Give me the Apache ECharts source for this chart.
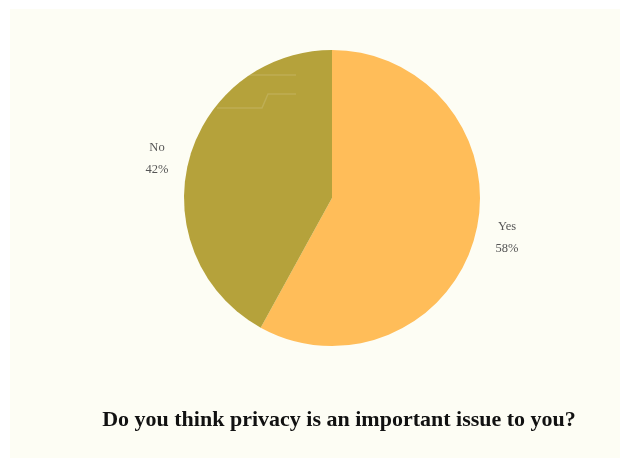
<!DOCTYPE html>
<html>
<head>
<meta charset="utf-8">
<script src="https://cdn.jsdelivr.net/npm/echarts@6/dist/echarts.min.js"></script>
<style>
  html, body { margin: 0; padding: 0; background: #ffffff; }
  #chart { width: 620px; height: 458px; }
</style>
</head>
<body>
<div id="chart"></div>
<script>
// Survey answers and their shares (percent)
const categories = ['Yes', 'No'];
const shares = [58, 42];
const sliceColors = ['#FFBD59', '#B5A23B'];
const questionText = 'Do you think privacy is an important issue to you?';

const chart = echarts.init(document.getElementById('chart'), null, { renderer: 'canvas' });

const seriesData = categories.map((name, i) => ({
  name: name,
  value: shares[i],
  itemStyle: { color: sliceColors[i] }
}));

// faint decorative traces on the upper part of the pie
const traceStyle = { stroke: 'rgba(255,255,255,0.13)', lineWidth: 1.5, fill: null };

chart.setOption({
  backgroundColor: '#ffffff',
  animation: false,
  graphic: [
    {
      type: 'rect',
      z: -10,
      shape: { x: 10, y: 9, width: 610, height: 449 },
      style: { fill: '#FDFDF4' }
    },
    {
      type: 'polyline',
      z: 10,
      shape: { points: [[241, 81], [245, 75], [296, 75]] },
      style: traceStyle
    },
    {
      type: 'polyline',
      z: 10,
      shape: { points: [[217, 108], [262, 108], [268, 94], [296, 94]] },
      style: traceStyle
    }
  ],
  title: {
    text: questionText,
    left: 334,
    top: 404,
    textAlign: 'center',
    textStyle: {
      fontFamily: 'Liberation Serif',
      fontWeight: 'bold',
      fontSize: 22,
      color: '#111111'
    }
  },
  series: [
    {
      type: 'pie',
      center: [332, 198],
      radius: [0, 148],
      startAngle: 90,
      clockwise: true,
      data: seriesData,
      label: {
        show: true,
        position: 'outside',
        formatter: '{t|{b}}\n{t|{d}%}',
        rich: {
          t: {
            width: 32,
            align: 'center',
            fontFamily: 'Liberation Serif',
            fontSize: 12.5,
            lineHeight: 22,
            color: '#555555'
          }
        }
      },
      labelLine: { show: false, length: 11, length2: 0 }
    }
  ]
});
</script>
</body>
</html>
